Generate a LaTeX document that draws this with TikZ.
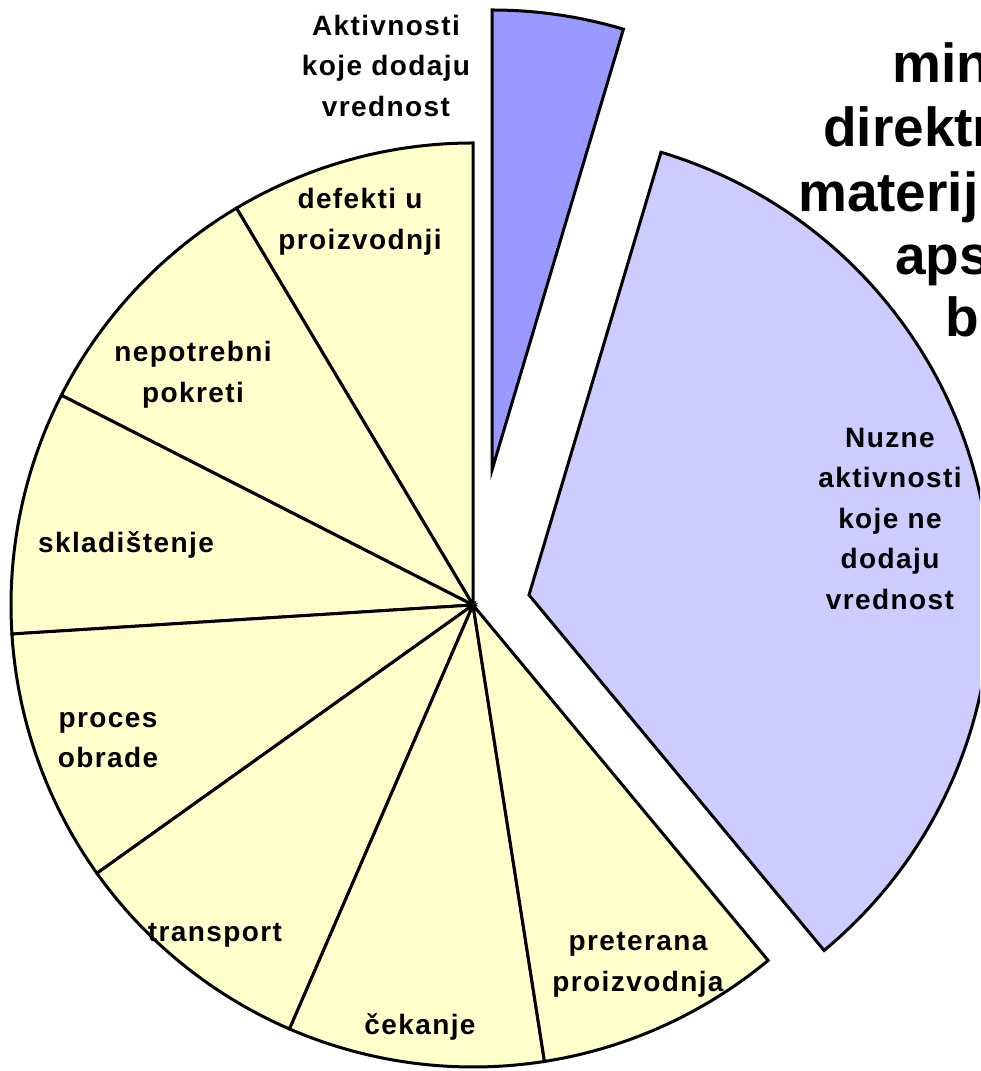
\documentclass[tikz,border=0pt]{standalone}
\usepackage{fontspec}
\setmainfont{Liberation Sans}
\newfontfamily\lblfont[LetterSpace=5]{Liberation Sans}
\usepackage{tikz}

\definecolor{wastefill}{HTML}{FFFFCC}
\definecolor{nvafill}{HTML}{CCCCFF}
\definecolor{vafill}{HTML}{9999FF}

\tikzset{
  slice/.style={draw=black, line width=3pt},
  lbl/.style={align=center, inner sep=0pt, font=\lblfont\bfseries\fontsize{28}{40.5}\selectfont},
  bigtext/.style={anchor=base west, inner sep=0pt, font=\bfseries\fontsize{55}{64}\selectfont}
}

\begin{document}
\begin{tikzpicture}[x=1pt,y=1pt]
\useasboundingbox (0,0) rectangle (980,1071);
\clip (0,0) rectangle (980,1071);

\coordinate (c) at (473,466);
\coordinate (nva) at (529,476);
\coordinate (va) at (492,601);

% gubici
\filldraw[slice, fill=wastefill] (c) -- ++(90:462) arc[start angle=90, end angle=120.8, radius=462] -- cycle;
\filldraw[slice, fill=wastefill] (c) -- ++(120.8:462) arc[start angle=120.8, end angle=153, radius=462] -- cycle;
\filldraw[slice, fill=wastefill] (c) -- ++(153:462) arc[start angle=153, end angle=183.6, radius=462] -- cycle;
\filldraw[slice, fill=wastefill] (c) -- ++(183.6:462) arc[start angle=183.6, end angle=215.5, radius=462] -- cycle;
\filldraw[slice, fill=wastefill] (c) -- ++(215.5:462) arc[start angle=215.5, end angle=246.6, radius=462] -- cycle;
\filldraw[slice, fill=wastefill] (c) -- ++(246.6:462) arc[start angle=246.6, end angle=278.9, radius=462] -- cycle;
\filldraw[slice, fill=wastefill] (c) -- ++(278.9:462) arc[start angle=278.9, end angle=309.7, radius=462] -- cycle;

% izvuceni delovi
\filldraw[slice, fill=nvafill] (nva) -- ++(-50.3:462) arc[start angle=-50.3, end angle=73.4, radius=462] -- cycle;
\filldraw[slice, fill=vafill] (va) -- ++(73.4:460) arc[start angle=73.4, end angle=90, radius=460] -- cycle;

\node[lbl] (defekti) at (360,849) {defekti u\\proizvodnji};
\node[lbl] (pokreti) at (193,696) {nepotrebni\\pokreti};
\node[lbl] (skladistenje) at (126,526) {skladištenje};
\node[lbl] (obrada) at (108,331) {proces\\obrade};
\node[lbl] (transport) at (215,136) {transport};
\node[lbl] (cekanje) at (420,44) {čekanje};
\node[lbl] (preterana) at (638,106) {preterana\\proizvodnja};
\node[lbl] (nuzne) at (890,552) {Nuzne\\aktivnosti\\koje ne\\dodaju\\vrednost};
\node[lbl] (dodaju) at (386,1005) {Aktivnosti\\koje dodaju\\vrednost};

\node[bigtext] (min) at (892,988) {min};
\node[bigtext] (direktn) at (823,924) {direktn};
\node[bigtext] (materij) at (798,859) {materij};
\node[bigtext] (aps) at (895,796) {aps};
\node[bigtext] (b) at (945,734) {b};

\end{tikzpicture}
\end{document}
